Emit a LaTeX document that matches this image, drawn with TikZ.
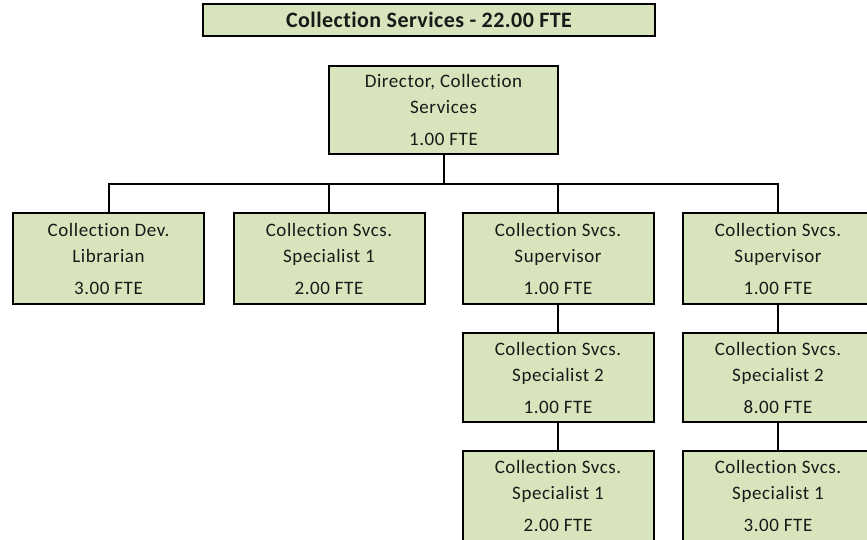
\documentclass[tikz,border=0pt]{standalone}
\usepackage{fontspec}
\setmainfont[Ligatures={NoCommon},LetterSpace=3]{Carlito}
\newfontfamily\titlefont[Ligatures={NoCommon},LetterSpace=2]{Carlito}
\definecolor{boxfill}{HTML}{D8E4BC}
\tikzset{
  orgbox/.style={draw=black, line width=2pt, fill=boxfill, rectangle, inner sep=0pt,
    minimum width=191pt, minimum height=91pt, align=center,
    font=\fontsize{19}{26}\selectfont, text=black!90},
  titlebox/.style={draw=black, line width=2pt, fill=boxfill, rectangle, inner sep=0pt,
    minimum width=452pt, minimum height=32pt, font=\titlefont\fontsize{22}{24}\selectfont\bfseries, text=black!90},
  conn/.style={line width=2pt, draw=black}
}
\begin{document}
\begin{tikzpicture}[x=1pt,y=-1pt]
\useasboundingbox (0,0) rectangle (867,539);
\node[titlebox] (title) at (429,20) {Collection Services - 22.00 FTE};
\node[orgbox, minimum width=229pt, minimum height=88pt] (dir) at (443.5,110) {Director, Collection\\Services\\[6pt]1.00 FTE};
\node[orgbox] (b1) at (108.5,258.5) {Collection Dev.\\Librarian\\[6pt]3.00 FTE};
\node[orgbox] (b2) at (329,258.5) {Collection Svcs.\\Specialist 1\\[6pt]2.00 FTE};
\node[orgbox] (b3) at (558,258.5) {Collection Svcs.\\Supervisor\\[6pt]1.00 FTE};
\node[orgbox] (b4) at (778,258.5) {Collection Svcs.\\Supervisor\\[6pt]1.00 FTE};
\node[orgbox, minimum height=89pt] (c3) at (558,377.5) {Collection Svcs.\\Specialist 2\\[6pt]1.00 FTE};
\node[orgbox, minimum height=89pt] (c4) at (778,377.5) {Collection Svcs.\\Specialist 2\\[6pt]8.00 FTE};
\node[orgbox, minimum height=90pt] (d3) at (558,496) {Collection Svcs.\\Specialist 1\\[6pt]2.00 FTE};
\node[orgbox, minimum height=90pt] (d4) at (778,496) {Collection Svcs.\\Specialist 1\\[6pt]3.00 FTE};
\coordinate (bus) at (443.5,184);
\draw[conn] (dir.south) -- (bus);
\draw[conn] (bus) -| (b1.north);
\draw[conn] (bus) -| (b2.north);
\draw[conn] (bus) -| (b3.north);
\draw[conn] (bus) -| (b4.north);
\draw[conn] (b3.south) -- (c3.north);
\draw[conn] (c3.south) -- (d3.north);
\draw[conn] (b4.south) -- (c4.north);
\draw[conn] (c4.south) -- (d4.north);
\end{tikzpicture}
\end{document}
